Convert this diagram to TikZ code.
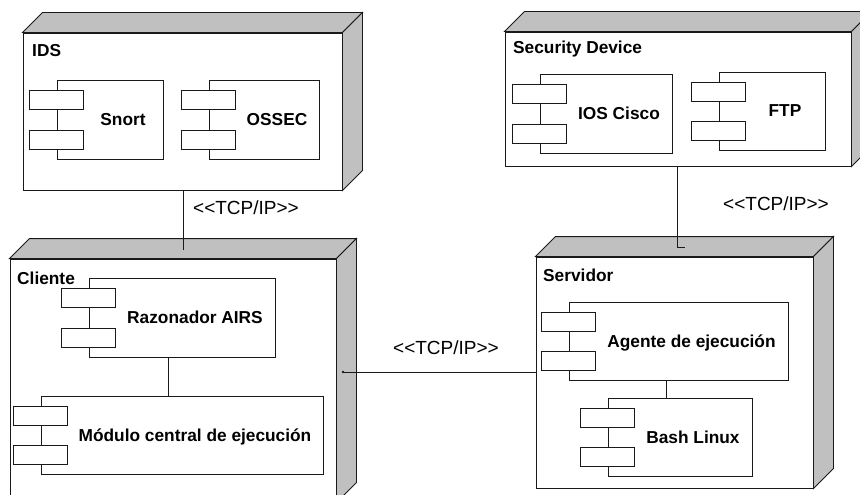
\documentclass[tikz,border=0pt]{standalone}
\usepackage{fontspec}
\setmainfont{Liberation Sans}
\usetikzlibrary{fit}
\definecolor{facegray}{HTML}{C0C0C0}
\definecolor{edge}{HTML}{1A1A1A}
\tikzset{
  front/.style={draw=edge, fill=white, line width=0.9pt, inner sep=0pt},
  face/.style={draw=edge, fill=facegray, line width=0.9pt, line join=miter},
  comp/.style={draw=edge, fill=white, line width=0.8pt, inner sep=0pt},
  port/.style={draw=edge, fill=white, line width=0.8pt},
  title/.style={font=\bfseries\fontsize{17.3}{20}\selectfont, anchor=base west, inner sep=0pt},
  clabel/.style={font=\bfseries\fontsize{17.3}{20}\selectfont, anchor=base, inner sep=0pt},
  stereo/.style={font=\fontsize{19}{22}\selectfont, anchor=base, inner sep=0pt},
  link/.style={draw=edge, line width=0.9pt},
}
\newcommand{\ddnode}[5]{%
  \node[front, fit={(#2,#3)(#4,#5)}] (#1) {};
  \filldraw[face] (#1.north west) -- ++(20,-20) -- ([shift={(20,-20)}]#1.north east) -- (#1.north east) -- cycle;
  \filldraw[face] (#1.north east) -- ++(20,-20) -- ([shift={(20,-20)}]#1.south east) -- (#1.south east) -- cycle;
}
\newcommand{\compo}[6]{%
  \node[comp, fit={(#2,#3)(#4,#5)}] (#1) {};
  \draw[port] ({#2-28},{#3+10}) rectangle ++(54,19);
  \draw[port] ({#2-28},{#5-29}) rectangle ++(54,19);
  \node[clabel] at ({(#2+26+#4)/2},{(#3+#5)/2+6}) {#6};
}
\newcommand{\tcpip}{<\kern0pt<TCP/IP>\kern0pt>}
\begin{document}
\begin{tikzpicture}[x=1pt, y=-1pt]
  \useasboundingbox (0,0) rectangle (860,495);
  \clip (0,0) rectangle (860,495);

  % deployment nodes
  \ddnode{ids}{23}{33}{342}{190}
  \ddnode{sec}{505}{32}{851}{166}
  \ddnode{cli}{10}{259}{336}{502}
  \ddnode{serv}{536}{257}{813}{488}

  \node[title] (tids) at (32,57) {IDS};
  \node[title] (tsec) at (513,54) {Security Device};
  \node[title] (tcli) at (17,284) {Cliente};
  \node[title] (tserv) at (543,281) {Servidor};

  % components
  \compo{snort}{57}{80}{163}{159}{Snort}
  \compo{ossec}{209}{80}{319}{159}{OSSEC}
  \compo{ios}{540}{74}{672}{153}{IOS Cisco}
  \compo{ftp}{719}{72}{825}{150}{FTP}
  \compo{razon}{89}{278}{275}{357}{Razonador AIRS}
  \compo{modulo}{41}{396}{323}{474}{Módulo central de ejecución}
  \compo{agente}{569}{302}{788}{380}{Agente de ejecución}
  \compo{bash}{608}{398}{752}{476}{Bash Linux}

  % connectors
  \coordinate (p1) at (183,250);
  \draw[link] (ids.south -| p1) -- (p1);
  \coordinate (p2) at (677,247);
  \coordinate (p2e) at (685,247);
  \draw[link] (sec.south -| p2) -- (p2) -- (p2e);
  \coordinate (p3) at (343,372);
  \draw[link] (p3) -- (serv.west |- p3);
  \fill[edge] (p3) circle (1.3);
  \coordinate (q1) at (168,0);
  \draw[link] (razon.south -| q1) -- (modulo.north -| q1);
  \coordinate (q2) at (666,0);
  \draw[link] (agente.south -| q2) -- (bash.north -| q2);

  % stereotypes
  \node[stereo] (s1) at (246,214) {\tcpip};
  \node[stereo] (s2) at (776,210) {\tcpip};
  \node[stereo] (s3) at (446,354) {\tcpip};
\end{tikzpicture}
\end{document}
